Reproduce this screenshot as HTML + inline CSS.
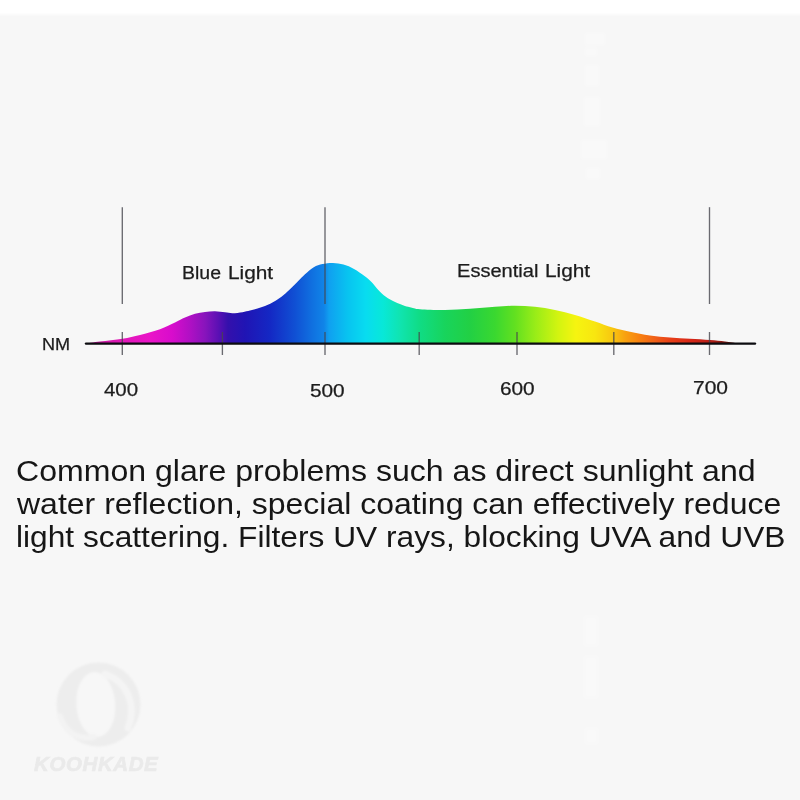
<!DOCTYPE html>
<html>
<head>
<meta charset="utf-8">
<style>
html,body{margin:0;padding:0;}
body{width:800px;height:800px;overflow:hidden;background:#f7f7f7;position:relative;font-family:"Liberation Sans",sans-serif;}
#top{position:absolute;left:0;top:0;width:800px;height:18px;background:linear-gradient(to bottom,#ffffff 0,#ffffff 12.5px,#f7f7f7 16.5px);}
svg{position:absolute;left:0;top:0;}
.lbl{position:absolute;color:#1c1c1c;-webkit-text-stroke:0.25px #1c1c1c;line-height:20px;white-space:nowrap;transform-origin:0 50%;will-change:transform;}
.cap{position:absolute;font-size:29.5px;line-height:33px;color:#161616;white-space:nowrap;transform-origin:0 50%;will-change:transform;}
#wm{position:absolute;left:34px;top:752px;font-size:20.5px;line-height:24px;font-weight:bold;font-style:italic;color:#eaeaea;letter-spacing:0.6px;white-space:nowrap;filter:blur(0.6px);-webkit-text-stroke:0.7px #eaeaea;}
</style>
</head>
<body>
<div id="top"></div>
<svg width="800" height="800" viewBox="0 0 800 800">
<defs>
<linearGradient id="sp" gradientUnits="userSpaceOnUse" x1="85" y1="0" x2="738" y2="0"><stop offset="0.0000" stop-color="#a81080"/><stop offset="0.0306" stop-color="#d018a8"/><stop offset="0.0567" stop-color="#e018b8"/><stop offset="0.0995" stop-color="#ea14c8"/><stop offset="0.1332" stop-color="#d80ccc"/><stop offset="0.1608" stop-color="#b010c4"/><stop offset="0.1838" stop-color="#8814bc"/><stop offset="0.2037" stop-color="#5c10b4"/><stop offset="0.2190" stop-color="#3410ac"/><stop offset="0.2450" stop-color="#2014b4"/><stop offset="0.2833" stop-color="#1428c4"/><stop offset="0.3216" stop-color="#1050d4"/><stop offset="0.3476" stop-color="#1070e0"/><stop offset="0.3660" stop-color="#1084e8"/><stop offset="0.3737" stop-color="#10a0f0"/><stop offset="0.4028" stop-color="#08c4f0"/><stop offset="0.4303" stop-color="#08dcf0"/><stop offset="0.4564" stop-color="#08e8d8"/><stop offset="0.4824" stop-color="#10e4b0"/><stop offset="0.5130" stop-color="#10dc84"/><stop offset="0.5513" stop-color="#18d45c"/><stop offset="0.5896" stop-color="#22d044"/><stop offset="0.6279" stop-color="#3ad830"/><stop offset="0.6585" stop-color="#62e020"/><stop offset="0.6891" stop-color="#98ec18"/><stop offset="0.7243" stop-color="#d2f410"/><stop offset="0.7519" stop-color="#f6f410"/><stop offset="0.7810" stop-color="#f8e610"/><stop offset="0.8070" stop-color="#f8c810"/><stop offset="0.8270" stop-color="#f8a210"/><stop offset="0.8499" stop-color="#f88010"/><stop offset="0.8729" stop-color="#f06018"/><stop offset="0.8959" stop-color="#e84018"/><stop offset="0.9265" stop-color="#d82818"/><stop offset="0.9571" stop-color="#b82018"/><stop offset="0.9801" stop-color="#801810"/><stop offset="1.0000" stop-color="#401008"/></linearGradient>
<filter id="b1" x="-20%" y="-20%" width="140%" height="140%"><feGaussianBlur stdDeviation="0.9"/></filter>
<filter id="b2" x="-50%" y="-50%" width="200%" height="200%"><feGaussianBlur stdDeviation="1.8"/></filter>
</defs>
<g filter="url(#b1)">
<circle cx="98.5" cy="704.5" r="42" fill="#ededed"/>
<ellipse cx="95.8" cy="704.5" rx="19.5" ry="32.5" fill="#f7f7f7" transform="rotate(-4 95.8 704.5)"/>
<path d="M105,674 C128,682 137,706 128,728" fill="none" stroke="#f4f4f4" stroke-width="7" stroke-linecap="round"/>
<path d="M60,716 C66,734 80,740 94,737" fill="none" stroke="#f3f3f3" stroke-width="6" stroke-linecap="round"/>
</g>
<g filter="url(#b2)" fill="#ffffff" fill-opacity="0.25">
<rect x="585" y="33" width="20" height="12"/><rect x="585" y="48" width="12" height="8"/>
<rect x="585" y="65" width="14" height="21"/><rect x="584" y="97" width="16" height="29"/>
<rect x="581" y="140" width="26" height="19"/><rect x="586" y="168" width="14" height="11"/><rect x="584" y="616" width="14" height="30" fill-opacity="0.2"/><rect x="584" y="656" width="14" height="42" fill-opacity="0.2"/><rect x="585" y="728" width="13" height="16" fill-opacity="0.2"/>
</g>
<path fill="url(#sp)" d="M85.00,343.50 C87.50,343.17 93.75,342.29 100.00,341.50 C106.25,340.71 115.83,339.83 122.50,338.75 C129.17,337.67 133.75,336.58 140.00,335.00 C146.25,333.42 154.17,331.33 160.00,329.25 C165.83,327.17 170.83,324.46 175.00,322.50 C179.17,320.54 181.67,318.96 185.00,317.50 C188.33,316.04 191.67,314.67 195.00,313.75 C198.33,312.83 201.67,312.41 205.00,312.00 C208.33,311.59 211.67,311.25 215.00,311.30 C218.33,311.35 222.08,311.98 225.00,312.30 C227.92,312.62 229.58,313.22 232.50,313.20 C235.42,313.18 239.58,312.63 242.50,312.20 C245.42,311.77 247.50,311.20 250.00,310.60 C252.50,310.00 255.00,309.37 257.50,308.60 C260.00,307.83 262.58,306.97 265.00,306.00 C267.42,305.03 269.50,304.17 272.00,302.80 C274.50,301.43 277.42,299.68 280.00,297.80 C282.58,295.92 284.50,294.26 287.50,291.50 C290.50,288.74 295.08,284.12 298.00,281.25 C300.92,278.38 302.38,276.58 305.00,274.25 C307.62,271.92 310.83,268.94 313.75,267.25 C316.67,265.56 319.29,264.83 322.50,264.10 C325.71,263.38 329.50,262.82 333.00,262.90 C336.50,262.98 340.00,263.58 343.50,264.60 C347.00,265.62 350.50,267.10 354.00,269.00 C357.50,270.90 361.58,273.82 364.50,276.00 C367.42,278.18 369.46,280.06 371.50,282.10 C373.54,284.14 374.71,286.06 376.75,288.25 C378.79,290.44 381.12,293.15 383.75,295.25 C386.38,297.35 389.29,299.19 392.50,300.85 C395.71,302.51 400.08,304.14 403.00,305.20 C405.92,306.26 407.17,306.52 410.00,307.20 C412.83,307.88 414.17,308.78 420.00,309.25 C425.83,309.72 436.67,310.08 445.00,310.00 C453.33,309.92 461.67,309.29 470.00,308.75 C478.33,308.21 487.50,307.25 495.00,306.75 C502.50,306.25 508.33,305.75 515.00,305.75 C521.67,305.75 528.33,306.04 535.00,306.75 C541.67,307.46 548.33,308.62 555.00,310.00 C561.67,311.38 568.33,313.08 575.00,315.00 C581.67,316.92 588.75,319.42 595.00,321.50 C601.25,323.58 606.67,325.79 612.50,327.50 C618.33,329.21 623.75,330.42 630.00,331.75 C636.25,333.08 643.33,334.54 650.00,335.50 C656.67,336.46 663.33,336.96 670.00,337.50 C676.67,338.04 683.33,338.33 690.00,338.75 C696.67,339.17 704.17,339.54 710.00,340.00 C715.83,340.46 720.33,340.92 725.00,341.50 C729.67,342.08 735.83,343.17 738.00,343.50 L738,344 L85,344 Z"/>
<g stroke="#46464e" stroke-opacity="0.8" stroke-width="1.35" fill="none"><line x1="122.3" y1="207.2" x2="122.3" y2="304"/><line x1="325.0" y1="207.2" x2="325.0" y2="304"/><line x1="709.5" y1="207.2" x2="709.5" y2="304"/><line x1="122.3" y1="332" x2="122.3" y2="355"/><line x1="222.4" y1="332" x2="222.4" y2="355"/><line x1="325.0" y1="332" x2="325.0" y2="355"/><line x1="419.2" y1="332" x2="419.2" y2="355"/><line x1="517" y1="332" x2="517" y2="355"/><line x1="613.8" y1="332" x2="613.8" y2="355"/><line x1="709.5" y1="332" x2="709.5" y2="355"/></g>
<line x1="86" y1="343.6" x2="755" y2="343.6" stroke="#0c0c10" stroke-width="2.4" stroke-linecap="round"/>
</svg>
<div class="lbl" style="left:41.5px;top:335.3px;font-size:16px;transform:scaleX(1.13)">NM</div><div class="lbl" style="left:104.4px;top:379.65px;font-size:18px;transform:scaleX(1.135)">400</div><div class="lbl" style="left:309.5px;top:380.65px;font-size:18px;transform:scaleX(1.155)">500</div><div class="lbl" style="left:500.3px;top:378.95px;font-size:18px;transform:scaleX(1.155)">600</div><div class="lbl" style="left:692.5px;top:378.35px;font-size:18px;transform:scaleX(1.165)">700</div><div class="lbl" style="left:181.8px;top:263.0px;font-size:17.5px;transform:scaleX(1.113)">Blue</div><div class="lbl" style="left:227.9px;top:263.0px;font-size:17.5px;transform:scaleX(1.19)">Light</div><div class="lbl" style="left:457.0px;top:260.6px;font-size:17.5px;transform:scaleX(1.147)">Essential</div><div class="lbl" style="left:544.9px;top:260.6px;font-size:17.5px;transform:scaleX(1.19)">Light</div><div class="cap" style="left:15.6px;top:453.8px;transform:scaleX(1.0868)">Common glare problems such as direct sunlight and</div><div class="cap" style="left:16.5px;top:487.2px;transform:scaleX(1.0847)">water reflection, special coating can effectively reduce</div><div class="cap" style="left:16px;top:520.2px;transform:scaleX(1.0747)">light scattering. Filters UV rays, blocking UVA and UVB</div><div id="wm">KOOHKADE</div>
</body>
</html>
